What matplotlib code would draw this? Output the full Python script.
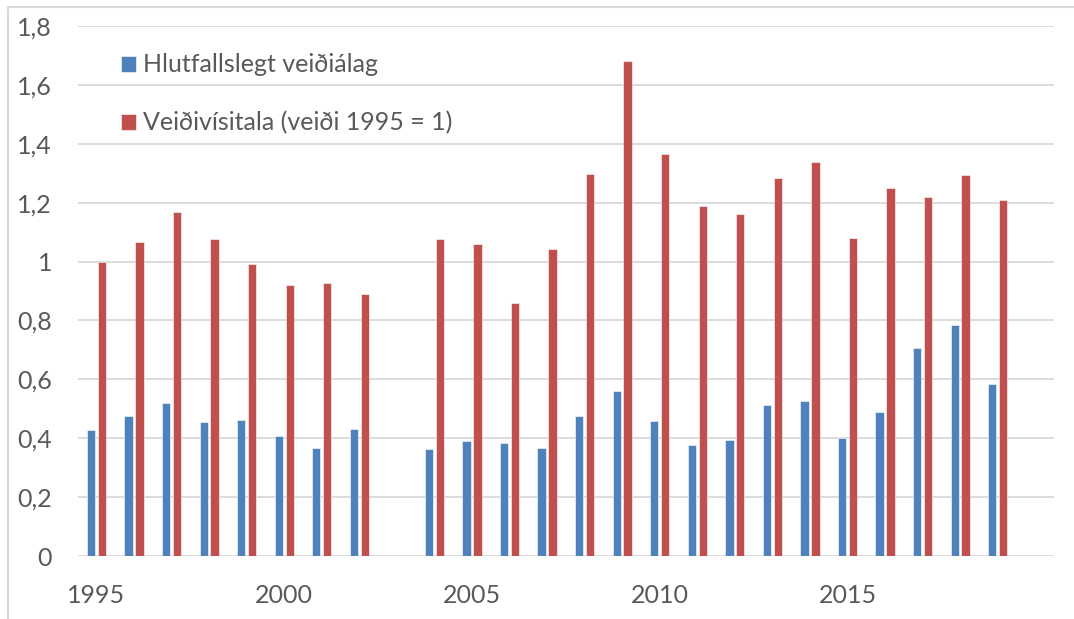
import numpy as np
import matplotlib
matplotlib.use("Agg")
import matplotlib.pyplot as plt
from matplotlib.ticker import FuncFormatter, MultipleLocator
from matplotlib.lines import Line2D

plt.rcParams['font.family'] = ['Lato', 'DejaVu Sans']

# data (2003 has no value)
years = list(range(1995, 2021))
veidialag = [0.429, 0.475, 0.520, 0.456, 0.463, 0.406, 0.366, 0.430, np.nan,
             0.362, 0.392, 0.384, 0.366, 0.475, 0.562, 0.459, 0.377, 0.393,
             0.512, 0.527, 0.401, 0.490, 0.707, 0.783, 0.583, np.nan]
visitala = [1.000, 1.065, 1.167, 1.076, 0.992, 0.921, 0.927, 0.889, np.nan,
            1.077, 1.060, 0.858, 1.043, 1.297, 1.680, 1.364, 1.188, 1.160,
            1.284, 1.337, 1.080, 1.251, 1.220, 1.293, 1.210, np.nan]
tick_years = [1995, 2000, 2005, 2010, 2015]
labels = ['Hlutfallslegt veiðiálag', 'Veiðivísitala (veiði 1995 = 1)']

blue = '#4F81BD'
red = '#C0504D'
grid_c = '#D9D9D9'
txt_c = '#595959'

fig = plt.figure(figsize=(10.74, 6.19), dpi=100)
ax = fig.add_axes([77.7 / 1074, 63 / 619, 976.3 / 1074, 530 / 619])

x = np.arange(len(years))
w = 0.22
off = 0.145
b1 = ax.bar(x - off, veidialag, w, color=blue, edgecolor='#FFFFFF', linewidth=0.4,
            label=labels[0], zorder=3)
b2 = ax.bar(x + off, visitala, w, color=red, edgecolor='#FFFFFF', linewidth=0.4,
            label=labels[1], zorder=3)

ax.set_xlim(-0.5, len(years) - 0.5)
ax.set_ylim(0, 1.8)
ax.yaxis.set_major_locator(MultipleLocator(0.2))
ax.yaxis.set_major_formatter(FuncFormatter(lambda v, p: ('%g' % round(v, 1)).replace('.', ',')))
ax.set_xticks([years.index(y) for y in tick_years])
ax.set_xticklabels([str(y) for y in tick_years])

ax.grid(axis='y', color=grid_c, linewidth=1.3, zorder=0)
for s in ax.spines.values():
    s.set_visible(False)
ax.tick_params(axis='both', length=0, labelsize=18, labelcolor=txt_c)
ax.tick_params(axis='y', pad=18.5)
ax.tick_params(axis='x', pad=20)

leg = ax.legend(handles=[b1, b2], loc='upper left', bbox_to_anchor=(121 / 1074, 1 - 53.4 / 619),
                bbox_transform=fig.transFigure, frameon=False, fontsize=18,
                handlelength=0.6, handleheight=0.6, handletextpad=0.28,
                labelspacing=1.39, borderaxespad=0, borderpad=0)
for t in leg.get_texts():
    t.set_color(txt_c)

# outer chart frame (left and top visible)
fig.add_artist(Line2D([8.3 / 1074, 8.3 / 1074], [0, 1 - 7.3 / 619], color=grid_c, linewidth=1.5,
                      transform=fig.transFigure))
fig.add_artist(Line2D([8.3 / 1074, 1], [1 - 7.3 / 619, 1 - 7.3 / 619], color=grid_c, linewidth=1.5,
                      transform=fig.transFigure))

fig.savefig('out.png', dpi=100)
